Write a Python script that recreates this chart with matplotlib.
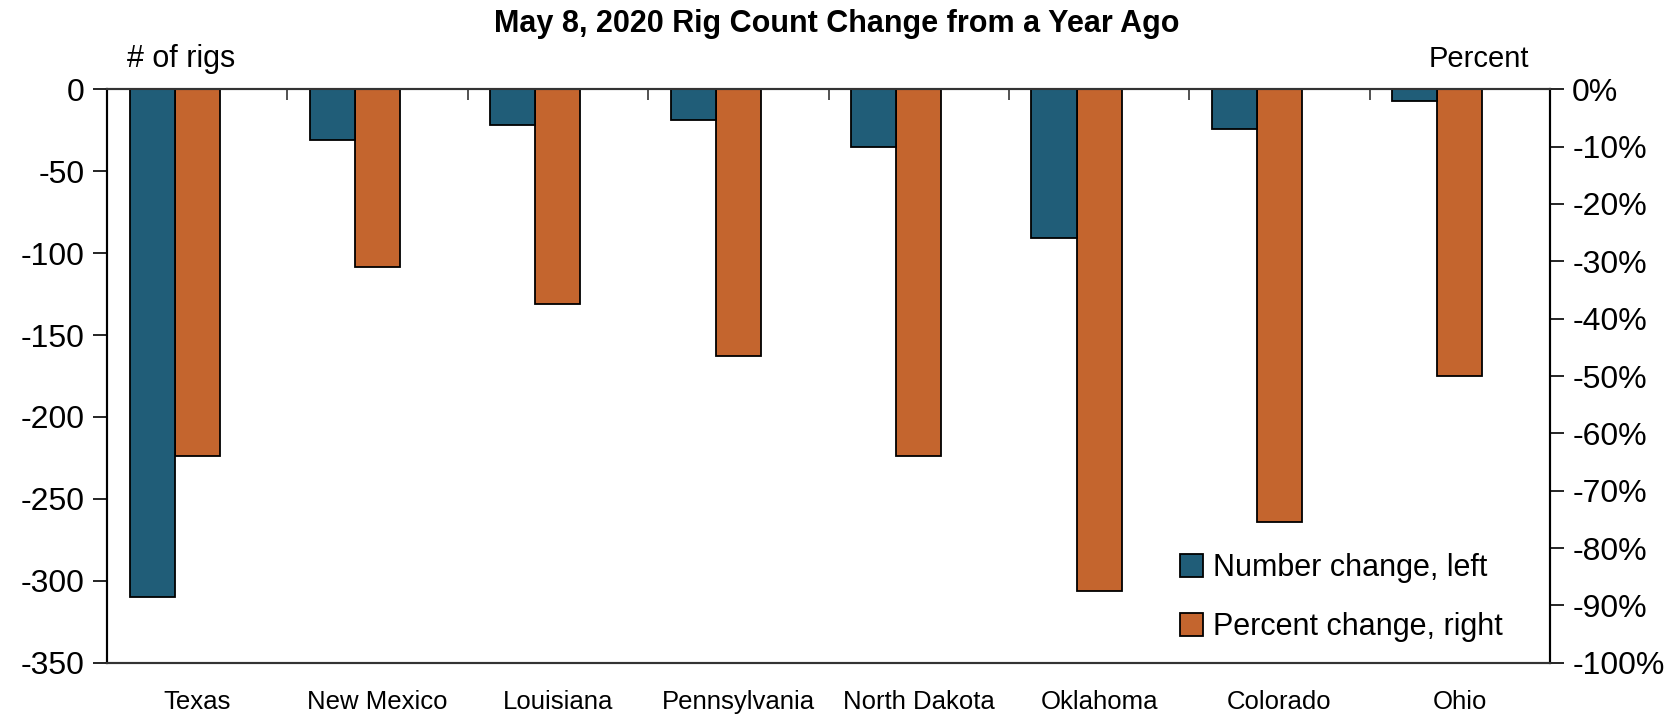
import matplotlib.pyplot as plt
import numpy as np
from matplotlib.ticker import FuncFormatter, FixedLocator

plt.rcParams['font.family'] = ['Liberation Sans Narrow', 'Liberation Sans', 'DejaVu Sans']
plt.rcParams['axes.unicode_minus'] = False

states = ["Texas", "New Mexico", "Louisiana", "Pennsylvania", "North Dakota",
          "Oklahoma", "Colorado", "Ohio"]
num_change = [-310, -31, -22, -19, -35, -91, -24, -7]
pct_change = [-64, -31, -37.5, -46.5, -64, -87.5, -75.5, -50]

blue = "#205D78"
orange = "#C4652E"

fig = plt.figure(figsize=(16.77, 7.16), dpi=100)
ax = fig.add_axes([107/1677, 1 - 662.7/716, 1443/1677, (662.7 - 89.3)/716])
ax2 = ax.twinx()

x = np.arange(len(states))
w = 0.25
b1 = ax.bar(x - w, num_change, w, color=blue, edgecolor="black", linewidth=1.3,
            label="Number change, left")
b2 = ax2.bar(x, pct_change, w, color=orange, edgecolor="black", linewidth=1.3,
             label="Percent change, right")

ax.set_xlim(-0.5, len(states) - 0.5)
ax.set_ylim(-350, 0)
ax2.set_ylim(-100, 0)
ax.set_yticks(np.arange(-350, 1, 50))
ax2.set_yticks(np.arange(-100, 1, 10))
ax2.yaxis.set_major_formatter(FuncFormatter(lambda v, p: f"{int(v)}%"))

ax.set_xticks(x)
ax.set_xticklabels(states, fontsize=18.5)
ax.tick_params(axis="x", which="major", length=0, pad=20)
ax.xaxis.set_minor_locator(FixedLocator(x[:-1] + 0.5))
ax.tick_params(axis="x", which="minor", top=True, bottom=False, direction="in",
               length=8, width=1.2, color="#333333")

ax.tick_params(axis="y", direction="out", length=10, width=1.2, labelsize=23, pad=6)
ax2.tick_params(axis="y", direction="out", length=10, width=1.2, labelsize=23, pad=6)

for a in (ax, ax2):
    for s in a.spines.values():
        s.set_linewidth(1.5)
    a.spines["top"].set_color("#333333")
    a.spines["bottom"].set_color("#333333")

ax.set_zorder(ax2.get_zorder() + 1)
ax.patch.set_visible(False)

fig.text(127/1677, 1 - 59/716, "# of rigs", fontsize=22, ha="left", va="center")
fig.text(1529/1677, 1 - 59/716, "Percent", fontsize=21, ha="right", va="center")
fig.text(837/1677, 1 - 24/716, "May 8, 2020 Rig Count Change from a Year Ago",
         fontsize=22, fontweight="bold", ha="center", va="center")

ax.legend(handles=[b1, b2], loc="lower right", bbox_to_anchor=(0.986, -0.012),
          frameon=False, fontsize=22, handlelength=0.75, handleheight=0.75,
          handletextpad=0.3, labelspacing=0.95)

fig.savefig("out.png", dpi=100)
